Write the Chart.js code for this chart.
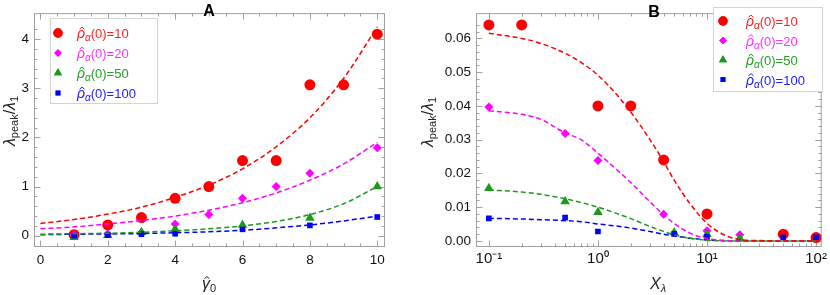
<!DOCTYPE html>
<html>
<head>
<meta charset="utf-8">
<script src="https://cdn.jsdelivr.net/npm/chart.js@4/dist/chart.umd.min.js"></script>
<style>
  body { margin: 0; background: #fff; }
  .panel { position: absolute; top: 0; width: 415px; height: 295px; }
</style>
</head>
<body>
<div class="panel" style="left:0"><canvas id="chartA" width="415" height="295"></canvas></div>
<div class="panel" style="left:415px"><canvas id="chartB" width="415" height="295"></canvas></div>
<script>
// ---- panel A: lambda_peak/lambda_1 vs gamma_0 ----
const aRedX = [1, 2, 3, 4, 5, 6, 7, 8, 9, 10];
const aRed = [0.02, 0.22, 0.37, 0.76, 1.0, 1.53, 1.53, 3.07, 3.07, 4.1];
const aMagX = [1, 2, 3, 4, 5, 6, 7, 8, 10];
const aMag = [0.02, 0.04, 0.06, 0.24, 0.43, 0.76, 1.0, 1.27, 1.79];
const aGreenX = [1, 2, 3, 4, 6, 8, 10];
const aGreen = [-0.03, 0.01, 0.07, 0.13, 0.22, 0.36, 1.0];
const aBlueX = [1, 2, 3, 4, 6, 8, 10];
const aBlue = [0.0, 0.01, 0.03, 0.04, 0.13, 0.21, 0.38];

const aFitX = [0, 1, 2, 3, 4, 5, 6, 7, 8, 9, 10];
const aFitRed = [0.25, 0.33, 0.44, 0.58, 0.78, 1.03, 1.36, 1.81, 2.4, 3.2, 4.25];
const aFitMag = [0.14, 0.18, 0.24, 0.31, 0.40, 0.52, 0.67, 0.87, 1.13, 1.46, 1.90];
const aFitGreen = [0.03, 0.04, 0.05, 0.07, 0.10, 0.14, 0.20, 0.29, 0.43, 0.65, 1.0];
const aFitBlue = [0.02, 0.03, 0.035, 0.045, 0.06, 0.08, 0.11, 0.16, 0.22, 0.30, 0.40];

// ---- panel B: lambda_peak/lambda_1 vs X_lambda (log) ----
const bRedX = [0.1, 0.2, 1, 2, 4, 10, 50, 100];
const bRed = [0.064, 0.064, 0.040, 0.040, 0.024, 0.008, 0.002, 0.001];
const bMagX = [0.1, 0.5, 1, 4, 10, 20];
const bMag = [0.0397, 0.0318, 0.0238, 0.0079, 0.0030, 0.0018];
const bGreenX = [0.1, 0.5, 1, 5, 10, 20];
const bGreen = [0.0156, 0.0117, 0.0085, 0.0025, 0.0020, 0.0008];
const bBlueX = [0.1, 0.5, 1, 5, 10, 50, 100];
const bBlue = [0.0067, 0.0069, 0.0028, 0.0021, 0.0012, 0.0011, 0.0011];

const bFitX = [0.1, 0.2, 0.3, 0.5, 0.7, 1, 1.5, 2, 3, 4, 5, 7, 10, 15, 20, 30, 50, 100];
const bFitRed = [0.0615, 0.060, 0.0585, 0.0556, 0.0529, 0.0491, 0.0432, 0.0382, 0.030, 0.0235, 0.018, 0.011, 0.0052, 0.0015, 0.0004, 0.0001, 0, 0];
const bFitMag = [0.0386, 0.0375, 0.036, 0.032, 0.030, 0.026, 0.021, 0.0173, 0.0116, 0.0077, 0.0052, 0.0023, 0.0007, 0.0001, 0, 0, 0, 0];
const bFitGreen = [0.0151, 0.0145, 0.0138, 0.0125, 0.0114, 0.0100, 0.0081, 0.0066, 0.0043, 0.0028, 0.0018, 0.0008, 0.0002, 0, 0, 0, 0, 0];
const bFitBlue = [0.0067, 0.0065, 0.0063, 0.0060, 0.0057, 0.0050, 0.0044, 0.0038, 0.0028, 0.0020, 0.0015, 0.0008, 0.0003, 0.0001, 0, 0, 0, 0];

const legendValues = ['10', '20', '50', '100'];
const colors = ['#ff0000', '#ff00ff', '#1a9a1a', '#0000ff'];
const textColors = ['#ff2020', '#ff30ff', '#22a022', '#2020ff'];
const markers = [
    { style: 'circle', r: 5.5 },
    { style: 'rectRot', r: 4.5 },
    { style: 'triangle', r: 5.5 },
    { style: 'rect', r: 4 }
];

const FONT = '"Liberation Sans", Arial, sans-serif';

function zip(xs, ys) {
    return xs.map((x, i) => ({ x: x, y: ys[i] }));
}

function buildDatasets(pointSets, fitX, fitSets) {
    const ds = [];
    fitSets.forEach((ys, i) => {
        ds.push({
            type: 'line',
            data: zip(fitX, ys),
            borderColor: colors[i],
            borderWidth: 1.5,
            borderDash: [5, 3],
            pointRadius: 0,
            fill: false,
            cubicInterpolationMode: 'monotone',
            order: 0
        });
    });
    pointSets.forEach(([xs, ys], i) => {
        ds.push({
            type: 'scatter',
            data: zip(xs, ys),
            backgroundColor: colors[i],
            borderColor: colors[i],
            borderWidth: 0,
            pointStyle: markers[i].style,
            pointRadius: markers[i].r,
            pointHoverRadius: markers[i].r,
            order: 10 - i
        });
    });
    return ds;
}

// draws a text made of pieces {t, size, dy, style, hat}
function drawPieces(ctx, pieces, x, y, align) {
    let total = 0;
    pieces.forEach(p => {
        ctx.font = (p.style || '') + ' ' + p.size + 'px ' + FONT;
        p.w = ctx.measureText(p.t).width;
        total += p.w;
    });
    let cx = align === 'center' ? x - total / 2 : x;
    pieces.forEach(p => {
        ctx.font = (p.style || '') + ' ' + p.size + 'px ' + FONT;
        const by = y + (p.dy || 0);
        ctx.fillText(p.t, cx, by);
        if (p.hat) {
            const hc = cx + p.w / 2 + 1;
            const top = by - p.size * 0.78;
            ctx.save();
            ctx.strokeStyle = ctx.fillStyle;
            ctx.lineWidth = 1;
            ctx.beginPath();
            ctx.moveTo(hc - 2.5, top + 2.2);
            ctx.lineTo(hc, top);
            ctx.lineTo(hc + 2.5, top + 2.2);
            ctx.stroke();
            ctx.restore();
        }
        cx += p.w;
    });
}

const framePlugin = {
    id: 'frame',
    beforeDatasetsDraw(chart, args, opts) {
        const { ctx, chartArea: ca, scales } = chart;
        const x = scales.x, y = scales.y;
        ctx.save();
        ctx.strokeStyle = '#a0a0a0';
        ctx.lineWidth = 1;
        ctx.strokeRect(ca.left + 0.5, ca.top + 0.5, ca.width - 1, ca.height - 1);
        ctx.beginPath();
        const tickX = (v, len) => {
            const px = Math.round(x.getPixelForValue(v)) + 0.5;
            if (px < ca.left || px > ca.right) return;
            ctx.moveTo(px, ca.bottom); ctx.lineTo(px, ca.bottom - len);
            ctx.moveTo(px, ca.top); ctx.lineTo(px, ca.top + len);
        };
        const tickY = (v, len) => {
            const py = Math.round(y.getPixelForValue(v)) + 0.5;
            if (py < ca.top || py > ca.bottom) return;
            ctx.moveTo(ca.left, py); ctx.lineTo(ca.left + len, py);
            ctx.moveTo(ca.right, py); ctx.lineTo(ca.right - len, py);
        };
        opts.xMinor.forEach(v => tickX(v, 3.5));
        opts.yMinor.forEach(v => tickY(v, 3.5));
        x.ticks.forEach(t => tickX(t.value, 6.5));
        y.ticks.forEach(t => tickY(t.value, 6.5));
        ctx.stroke();
        ctx.restore();
    },
    afterDraw(chart, args, opts) {
        const { ctx } = chart;
        ctx.save();
        // panel letter
        ctx.fillStyle = '#000';
        ctx.textAlign = 'center';
        ctx.textBaseline = 'middle';
        ctx.font = 'bold 16px ' + FONT;
        ctx.fillText(opts.letter, opts.letterPos[0], opts.letterPos[1]);

        // y axis title, rotated
        ctx.save();
        ctx.translate(opts.yTitlePos[0], opts.yTitlePos[1]);
        ctx.rotate(-Math.PI / 2);
        ctx.textAlign = 'left';
        ctx.textBaseline = 'alphabetic';
        ctx.fillStyle = '#222';
        drawPieces(ctx, [
            { t: 'λ', size: 16, style: 'italic' },
            { t: 'peak', size: 11, dy: 3 },
            { t: '/', size: 16 },
            { t: 'λ', size: 16, style: 'italic' },
            { t: '1', size: 11, dy: 3 }
        ], 0, 5, 'center');
        ctx.restore();

        // x axis title
        ctx.textAlign = 'left';
        ctx.textBaseline = 'alphabetic';
        ctx.fillStyle = '#222';
        drawPieces(ctx, opts.xTitle, opts.xTitlePos[0], opts.xTitlePos[1], 'center');

        // legend box
        const lg = opts.legend;
        ctx.fillStyle = '#fff';
        ctx.fillRect(lg.x, lg.y, lg.w, lg.h);
        ctx.strokeStyle = '#d4d4d4';
        ctx.lineWidth = 1;
        ctx.strokeRect(lg.x + 0.5, lg.y + 0.5, lg.w, lg.h);
        const pointSets = chart.data.datasets.filter(d => d.type === 'scatter');
        pointSets.forEach((d, i) => {
            const ry = lg.y + lg.firstRow + i * lg.rowGap;
            ctx.fillStyle = d.backgroundColor;
            Chart.helpers.drawPoint(ctx, {
                pointStyle: d.pointStyle,
                radius: d.pointRadius * 0.85,
                rotation: 0,
                borderWidth: 0
            }, lg.x + lg.markerX, ry);
            ctx.fill();
            ctx.fillStyle = textColors[i];
            drawPieces(ctx, [
                { t: 'ρ', size: 14, style: 'italic', hat: true },
                { t: 'α', size: 10, dy: 3, style: 'italic' },
                { t: '(0)=' + legendValues[i], size: 13 }
            ], lg.x + lg.textX, ry + 5, 'left');
        });
        ctx.restore();
    }
};

function axisFit(size, horizontal) {
    return function (scale) {
        if (horizontal) scale.height = size; else scale.width = size;
    };
}

const baseTicks = { color: '#111', font: { family: 'Liberation Sans', size: 13.5 } };

// minor tick positions (axis decoration only)
const aXMinor = [];
for (let v = 0; v <= 10; v += 0.5) aXMinor.push(v);
const aYMinor = [];
for (let v = 0; v <= 4.4; v += 0.2) aYMinor.push(+v.toFixed(2));
const bXMinor = [];
[0.1, 1, 10].forEach(d => { for (let k = 2; k <= 9; k++) bXMinor.push(d * k); });
const bYMinor = [];
for (let v = 0; v <= 0.066; v += 0.002) bYMinor.push(+v.toFixed(4));

new Chart(document.getElementById('chartA'), {
    type: 'scatter',
    data: {
        datasets: buildDatasets(
            [[aRedX, aRed], [aMagX, aMag], [aGreenX, aGreen], [aBlueX, aBlue]],
            aFitX, [aFitRed, aFitMag, aFitGreen, aFitBlue])
    },
    options: {
        responsive: false,
        animation: false,
        layout: { padding: { left: 0, right: 30, top: 1, bottom: 0 } },
        scales: {
            x: {
                type: 'linear',
                min: -0.19, max: 10.23,
                grid: { display: false, drawTicks: false },
                border: { display: false },
                ticks: { ...baseTicks, stepSize: 2, includeBounds: false, padding: 5, maxRotation: 0 },
                afterFit: axisFit(48, true)
            },
            y: {
                type: 'linear',
                min: -0.23, max: 4.53,
                grid: { display: false, drawTicks: false },
                border: { display: false },
                ticks: { ...baseTicks, stepSize: 1, includeBounds: false, padding: 5 },
                afterFit: axisFit(34, false)
            }
        },
        plugins: {
            legend: { display: false },
            tooltip: { enabled: false },
            frame: {
                letter: 'A', letterPos: [209, 12],
                yTitlePos: [10, 121],
                xTitle: [
                    { t: 'γ', size: 16, style: 'italic', hat: true },
                    { t: '0', size: 11, dy: 3 }
                ],
                xTitlePos: [209, 289],
                xMinor: aXMinor, yMinor: aYMinor,
                legend: { x: 50, y: 18, w: 107, h: 85, firstRow: 15, rowGap: 20, markerX: 8, textX: 27 }
            }
        }
    },
    plugins: [framePlugin]
});

const powLabels = { 0.1: '10⁻¹', 1: '10⁰', 10: '10¹', 100: '10²' };

new Chart(document.getElementById('chartB'), {
    type: 'scatter',
    data: {
        datasets: buildDatasets(
            [[bRedX, bRed], [bMagX, bMag], [bGreenX, bGreen], [bBlueX, bBlue]],
            bFitX, [bFitRed, bFitMag, bFitGreen, bFitBlue])
    },
    options: {
        responsive: false,
        animation: false,
        layout: { padding: { left: 0, right: 5, top: 1, bottom: 0 } },
        scales: {
            x: {
                type: 'logarithmic',
                min: 0.0762, max: 112.7,
                grid: { display: false, drawTicks: false },
                border: { display: false },
                afterBuildTicks: s => { s.ticks = [0.1, 1, 10, 100].map(v => ({ value: v })); },
                ticks: {
                    ...baseTicks, font: { family: 'Liberation Sans', size: 15 }, padding: 3, maxRotation: 0, autoSkip: false,
                    callback: v => powLabels[v] || ''
                },
                afterFit: axisFit(48, true)
            },
            y: {
                type: 'linear',
                min: -0.0018, max: 0.0675,
                grid: { display: false, drawTicks: false },
                border: { display: false },
                ticks: {
                    ...baseTicks, stepSize: 0.01, includeBounds: false, padding: 5,
                    callback: v => v.toFixed(2)
                },
                afterFit: axisFit(61, false)
            }
        },
        plugins: {
            legend: { display: false },
            tooltip: { enabled: false },
            frame: {
                letter: 'B', letterPos: [239, 13],
                yTitlePos: [13, 122],
                xTitle: [
                    { t: 'X', size: 16, style: 'italic' },
                    { t: 'λ', size: 11, dy: 3, style: 'italic' }
                ],
                xTitlePos: [243, 289],
                xMinor: bXMinor, yMinor: bYMinor,
                legend: { x: 298, y: 7, w: 109, h: 84, firstRow: 14, rowGap: 19.5, markerX: 10, textX: 33 }
            }
        }
    },
    plugins: [framePlugin]
});
</script>
</body>
</html>
